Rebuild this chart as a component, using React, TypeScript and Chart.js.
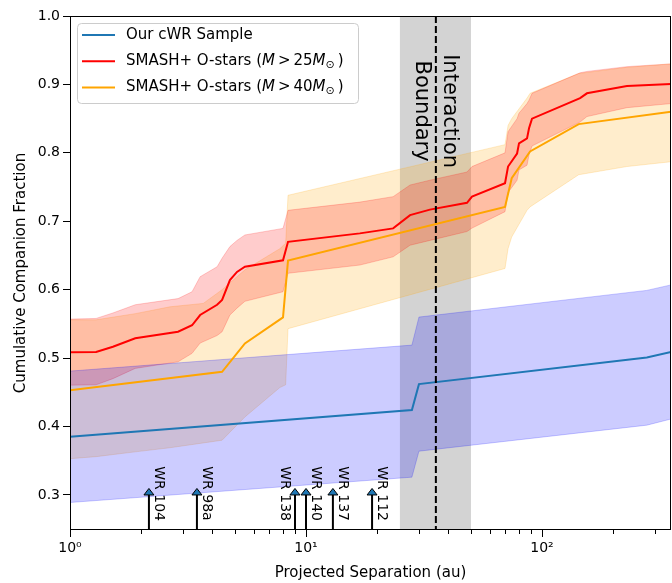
import React, { useEffect, useRef } from 'react';
import { Chart, registerables } from 'chart.js';

Chart.register(...registerables);

const FONT = '"DejaVu Sans", "Liberation Sans", sans-serif';

// ---------------- data ----------------
// Our cWR sample
const cwrSep = [1, 28.1, 30.1, 278, 352];
const cwrMid = [0.385, 0.424, 0.462, 0.501, 0.509];
const cwrHigh = [0.481, 0.519, 0.56, 0.599, 0.607];
const cwrLow = [0.289, 0.326, 0.364, 0.402, 0.411];

// SMASH+ O-stars, M > 25 Msun
const m25Sep = [1, 1.29, 1.52, 1.89, 2.87, 3.29, 3.56, 4.2, 4.41, 4.76, 5.1, 5.51, 7.99, 8.39, 16.9, 23.4, 27.6, 33.5, 48.1, 50.5, 69.7, 71.8, 78.4, 79.9, 86.4, 88.1, 90.7, 145, 155, 229, 352];
const m25Mid = [0.5085, 0.509, 0.5166, 0.529, 0.5385, 0.548, 0.563, 0.578, 0.585, 0.614, 0.626, 0.6335, 0.643, 0.67, 0.6823, 0.6896, 0.709, 0.717, 0.727, 0.736, 0.7555, 0.78, 0.799, 0.814, 0.821, 0.836, 0.85, 0.88, 0.887, 0.8977, 0.9006];
const m25High = [0.557, 0.558, 0.566, 0.578, 0.587, 0.597, 0.619, 0.6335, 0.646, 0.663, 0.672, 0.68, 0.6896, 0.716, 0.728, 0.736, 0.753, 0.76, 0.772, 0.78, 0.8, 0.831, 0.85, 0.858, 0.872, 0.877, 0.887, 0.917, 0.919, 0.926, 0.93];
const m25Low = [0.4605, 0.461, 0.47, 0.485, 0.4946, 0.507, 0.522, 0.533, 0.5385, 0.563, 0.573, 0.583, 0.597, 0.624, 0.636, 0.648, 0.665, 0.672, 0.685, 0.69, 0.714, 0.742, 0.76, 0.775, 0.782, 0.797, 0.81, 0.845, 0.853, 0.866, 0.872];

// SMASH+ O-stars, M > 40 Msun
const m40Sep = [1, 4.41, 5.51, 7.99, 8.39, 69.7, 74.4, 89, 143, 352];
const m40Mid = [0.4532, 0.48, 0.5215, 0.5595, 0.6425, 0.721, 0.763, 0.802, 0.842, 0.86];
const m40BandSep = [1, 1.29, 1.89, 2.65, 3.67, 4.41, 5.51, 7.75, 8.2, 8.39, 69.7, 71.8, 74.4, 86.4, 89, 143, 229, 352];
const m40High = [0.556, 0.556, 0.565, 0.575, 0.58, 0.6, 0.629, 0.66, 0.668, 0.738, 0.812, 0.84, 0.85, 0.88, 0.887, 0.916, 0.925, 0.93];
const m40Low = [0.353, 0.356, 0.363, 0.369, 0.376, 0.38, 0.414, 0.457, 0.461, 0.543, 0.631, 0.66, 0.677, 0.716, 0.721, 0.768, 0.78, 0.787];

// Individual WR binaries
const wrNames = ['WR 104', 'WR 98a', 'WR 138', 'WR 140', 'WR 137', 'WR 112'];
const wrSep = [2.16, 3.45, 8.98, 10.0, 13.0, 19.05];
const wrLabelSide = [1, 1, -1, 1, 1, 1];

// Interaction boundary
const interactionSpan = [25, 50];
const interactionBoundary = 35.5;

// Axes
const xMin = 1;
const xMax = 352;
const yMin = 0.2488;
const yMax = 1.0;
const xMajorTicks = [1, 10, 100];
const xTickLabels = ['10\u2070', '10\u00B9', '10\u00B2'];
const yTicks = [0.3, 0.4, 0.5, 0.6, 0.7, 0.8, 0.9, 1.0];

const legendNames = ['Our cWR Sample', 'SMASH+ O-stars', 'SMASH+ O-stars'];
const legendMass = [0, 25, 40];
const legendColors = ['#1f77b4', '#ff0000', '#ffa500'];

const pts = (xs: number[], ys: number[]) => xs.map((x, i) => ({ x, y: ys[i] }));

function band(xs: number[], hi: number[], lo: number[], rgb: string) {
  const c = `rgba(${rgb},0.2)`;
  return [
    { data: pts(xs, hi), borderColor: c, backgroundColor: c, borderWidth: 1, pointRadius: 0, fill: '+1', order: 10, tension: 0 },
    { data: pts(xs, lo), borderColor: c, backgroundColor: 'transparent', borderWidth: 1, pointRadius: 0, fill: false, order: 10, tension: 0 },
  ];
}

function line(xs: number[], ys: number[], color: string) {
  return { data: pts(xs, ys), borderColor: color, backgroundColor: color, borderWidth: 2, pointRadius: 0, fill: false, order: 0, tension: 0 };
}

const decor = {
  id: 'decor',
  beforeDatasetsDraw(chart: any) {
    const { ctx, chartArea: a, scales } = chart;
    const x = scales.x;
    ctx.save();
    const x0 = x.getPixelForValue(interactionSpan[0]);
    const x1 = x.getPixelForValue(interactionSpan[1]);
    ctx.fillStyle = 'rgba(128,128,128,0.35)';
    ctx.fillRect(x0, a.top, x1 - x0, a.bottom - a.top);
    ctx.restore();
  },
  afterDatasetsDraw(chart: any) {
    const { ctx, chartArea: a, scales } = chart;
    const x = scales.x, y = scales.y;
    ctx.save();
    // dashed boundary
    const xd = x.getPixelForValue(interactionBoundary);
    ctx.strokeStyle = '#000';
    ctx.lineWidth = 2;
    ctx.setLineDash([7, 3]);
    ctx.beginPath();
    ctx.moveTo(xd, a.top);
    ctx.lineTo(xd, a.bottom);
    ctx.stroke();
    ctx.setLineDash([]);
    // rotated boundary text
    ctx.save();
    ctx.translate(xd, y.getPixelForValue(0.861));
    ctx.rotate(Math.PI / 2);
    ctx.font = `21px ${FONT}`;
    ctx.fillStyle = '#000';
    ctx.textAlign = 'center';
    ctx.textBaseline = 'middle';
    ctx.fillText('Interaction', 0, -14);
    ctx.fillText('Boundary', 0, 14);
    ctx.restore();
    // arrows
    wrSep.forEach((s, i) => {
      const px = x.getPixelForValue(s);
      const yb = a.bottom;
      const yh = y.getPixelForValue(0.3);
      const yt = y.getPixelForValue(0.3095);
      ctx.strokeStyle = '#000';
      ctx.lineWidth = 2;
      ctx.beginPath();
      ctx.moveTo(px, yb);
      ctx.lineTo(px, yh);
      ctx.stroke();
      ctx.beginPath();
      ctx.moveTo(px - 5, yh);
      ctx.lineTo(px + 5, yh);
      ctx.lineTo(px, yt);
      ctx.closePath();
      ctx.fillStyle = '#1f77b4';
      ctx.fill();
      ctx.lineWidth = 1;
      ctx.stroke();
      ctx.save();
      ctx.translate(px + wrLabelSide[i] * 10, y.getPixelForValue(0.342));
      ctx.rotate(Math.PI / 2);
      ctx.font = `14px ${FONT}`;
      ctx.fillStyle = '#000';
      ctx.textAlign = 'left';
      ctx.textBaseline = 'middle';
      ctx.fillText(wrNames[i], 0, 0);
      ctx.restore();
    });
    ctx.restore();
  },
  afterDraw(chart: any) {
    const { ctx, chartArea: a, scales } = chart;
    const x = scales.x;
    ctx.save();
    // frame
    ctx.strokeStyle = '#000';
    ctx.lineWidth = 1;
    ctx.strokeRect(a.left + 0.5, a.top + 0.5, a.right - a.left - 1, a.bottom - a.top - 1);
    // minor ticks
    ctx.beginPath();
    for (let d = 1; d <= 100; d *= 10) {
      for (let k = 2; k <= 9; k++) {
        const v = d * k;
        if (v > xMax) break;
        const px = Math.round(x.getPixelForValue(v)) + 0.5;
        ctx.moveTo(px, a.bottom);
        ctx.lineTo(px, a.bottom + 4);
      }
    }
    ctx.stroke();
    // legend
    const bx = 77.5, by = 23.5, bw = 281, bh = 80;
    ctx.beginPath();
    (ctx as any).roundRect(bx, by, bw, bh, 4);
    ctx.fillStyle = 'rgba(255,255,255,0.8)';
    ctx.fill();
    ctx.strokeStyle = '#cccccc';
    ctx.stroke();
    const rowY = [35, 61.3, 87.6];
    const normal = `15px ${FONT}`;
    const italic = `italic 15px ${FONT}`;
    const small = `11px ${FONT}`;
    legendNames.forEach((name, i) => {
      const yy = rowY[i];
      ctx.strokeStyle = legendColors[i];
      ctx.lineWidth = 2;
      ctx.beginPath();
      ctx.moveTo(82, yy);
      ctx.lineTo(115, yy);
      ctx.stroke();
      ctx.fillStyle = '#000';
      ctx.textAlign = 'left';
      ctx.textBaseline = 'middle';
      let cx = 126;
      const seg = (t: string, f: string, dy = 0) => {
        ctx.font = f;
        ctx.fillText(t, cx, yy + dy);
        cx += ctx.measureText(t).width;
      };
      if (!legendMass[i]) {
        seg(name, normal);
      } else {
        seg(name + ' (', normal);
        seg('M', italic);
        cx += 3;
        seg('>', normal);
        cx += 3;
        seg(String(legendMass[i]), normal);
        seg('M', italic);
        seg('\u2299', small, 4);
        cx += 3;
        seg(')', normal);
      }
    });
    ctx.restore();
  },
};

export default function App() {
  const ref = useRef<HTMLCanvasElement>(null);
  useEffect(() => {
    const canvas = ref.current!;
    Chart.defaults.font.family = FONT;
    Chart.defaults.color = '#000';
    const datasets: any[] = [
      line(cwrSep, cwrMid, '#1f77b4'),
      line(m25Sep, m25Mid, '#ff0000'),
      line(m40Sep, m40Mid, '#ffa500'),
      ...band(cwrSep, cwrHigh, cwrLow, '0,0,255'),
      ...band(m25Sep, m25High, m25Low, '255,0,0'),
      ...band(m40BandSep, m40High, m40Low, '255,165,0'),
    ];
    const chart = new Chart(canvas, {
      type: 'line',
      data: { datasets },
      plugins: [decor],
      options: {
        responsive: false,
        animation: false,
        devicePixelRatio: 1,
        layout: { padding: { top: 16, right: 1, left: 0, bottom: 0 } },
        plugins: { legend: { display: false }, tooltip: { enabled: false } },
        scales: {
          x: {
            type: 'logarithmic',
            min: xMin,
            max: xMax,
            afterBuildTicks: (ax: any) => {
              ax.ticks = xMajorTicks.map((v) => ({ value: v, major: true }));
            },
            afterFit: (ax: any) => {
              ax.height = 53;
            },
            ticks: {
              autoSkip: false,
              maxRotation: 0,
              padding: 3,
              font: { size: 14, family: FONT },
              color: '#000',
              callback: (v: any) => xTickLabels[Math.round(Math.log10(Number(v)))] ?? '',
            },
            grid: { drawOnChartArea: false, drawTicks: true, tickLength: 7, tickColor: '#000' },
            border: { display: false },
            title: { display: true, text: 'Projected Separation (au)', font: { size: 15, family: FONT }, color: '#000', padding: { top: 0, bottom: 1 } },
          },
          y: {
            type: 'linear',
            min: yMin,
            max: yMax,
            afterBuildTicks: (ax: any) => {
              ax.ticks = yTicks.map((v) => ({ value: v }));
            },
            afterFit: (ax: any) => {
              ax.width = 70;
            },
            ticks: {
              padding: 3,
              font: { size: 14, family: FONT },
              color: '#000',
              callback: (v: any) => Number(v).toFixed(1),
            },
            grid: { drawOnChartArea: false, drawTicks: true, tickLength: 7, tickColor: '#000' },
            border: { display: false },
            title: { display: true, text: 'Cumulative Companion Fraction', font: { size: 15, family: FONT }, color: '#000', padding: { top: 12, bottom: 0 } },
          },
        },
      } as any,
    });
    return () => chart.destroy();
  }, []);
  return (
    <div style={{ position: 'absolute', left: 0, top: 0, width: 672, height: 583 }}>
      <canvas ref={ref} width={672} height={583} style={{ display: 'block', width: 672, height: 583 }} />
    </div>
  );
}
